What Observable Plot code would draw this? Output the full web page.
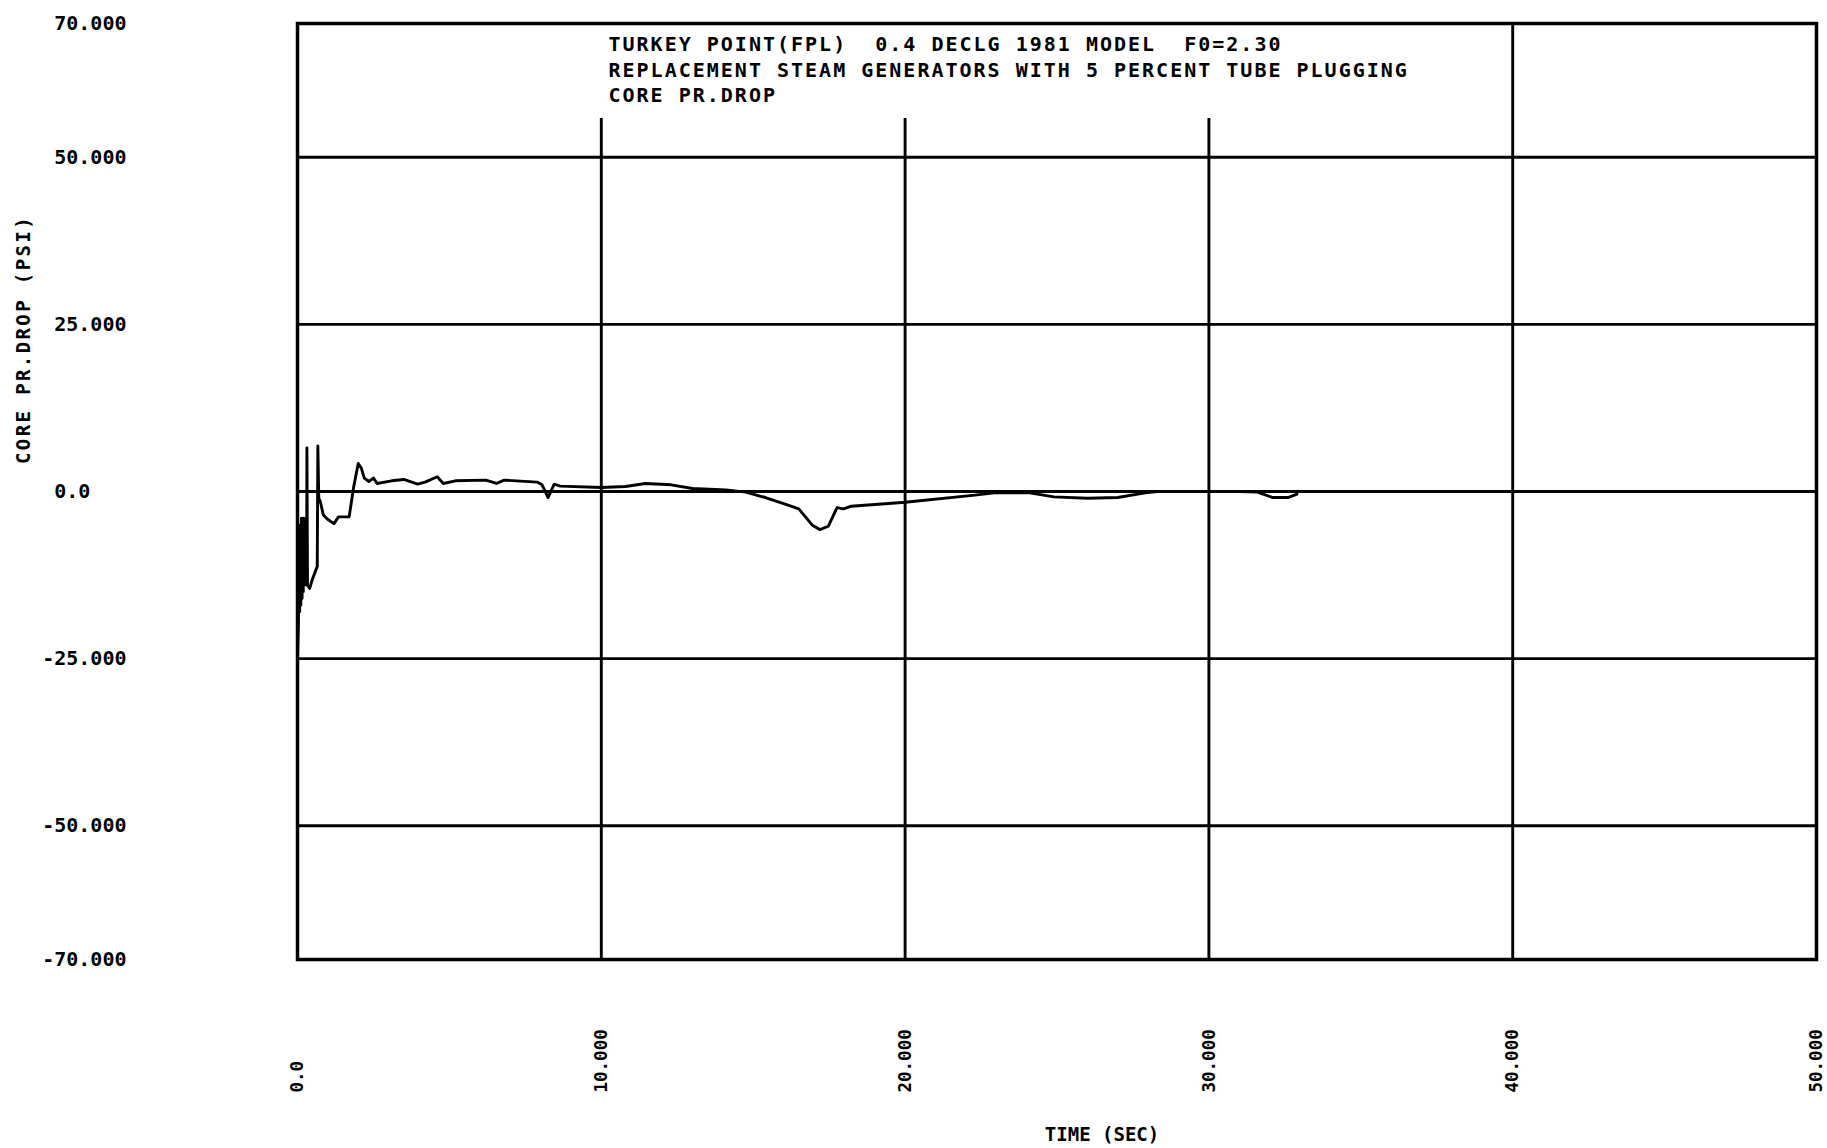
<!DOCTYPE html>
<html>
<head>
<meta charset="utf-8">
<script src="https://cdn.jsdelivr.net/npm/d3@7"></script>
<script src="https://cdn.jsdelivr.net/npm/@observablehq/plot@0.6"></script>
<style>
  html, body { margin: 0; padding: 0; background: white; }
</style>
</head>
<body>
<div id="chart"></div>
<script>
// ---- data ----
const timeSec = [
  0.00, 0.03, 0.05, 0.07, 0.09, 0.11, 0.13, 0.15, 0.17, 0.19, 0.21, 0.23, 0.25, 0.28, 0.30,
  0.31, 0.33, 0.40, 0.50, 0.65, 0.67, 0.70, 0.75, 0.85, 1.00, 1.20, 1.35, 1.70, 1.85, 2.00,
  2.10, 2.20, 2.35, 2.50, 2.62, 3.10, 3.50, 3.95, 4.20, 4.60, 4.80, 5.20, 6.20, 6.55, 6.80,
  7.90, 8.05, 8.25, 8.45, 8.65, 10.0, 10.8, 11.45, 12.3, 13.0, 14.1, 14.75, 15.4, 16.0, 16.5,
  16.96, 17.2, 17.47, 17.76, 17.97, 18.23, 20.0, 22.3, 23.0, 24.1, 24.9, 26.0, 27.0, 27.9,
  28.3, 30.0, 31.0, 31.6, 32.1, 32.6, 32.9
];
const corePrDrop = [
  -25, -20, -8, -18, -5, -17, -4, -16, -6, -15, -4, -14, -7, -12, -14,
  6.5, -14, -14.5, -13, -11.2, 6.8, -1.0, -1.5, -3.5, -4.2, -4.8, -3.8, -3.8, 0.7, 4.2,
  3.5, 2.0, 1.5, 2.0, 1.2, 1.6, 1.8, 1.1, 1.4, 2.2, 1.2, 1.6, 1.7, 1.2, 1.7,
  1.4, 1.0, -0.9, 1.1, 0.8, 0.6, 0.75, 1.2, 1.0, 0.45, 0.25, -0.1, -0.9, -1.8, -2.6,
  -5.1, -5.7, -5.2, -2.4, -2.6, -2.2, -1.6, -0.55, -0.15, -0.2, -0.8, -1.0, -0.9, -0.2,
  0.0, 0.0, 0.0, -0.1, -0.9, -0.9, -0.4
];
const xTicks = [0, 10, 20, 30, 40, 50];
const yTicks = [70, 50, 25, 0, -25, -50, -70];
const hGrid = [50, 25, 0, -25, -50];
const vGridShort = [10, 20, 30];
const vGridFull = [40];
const vGridShortTop = 55.8;
const titleLines = [
  "TURKEY POINT(FPL)  0.4 DECLG 1981 MODEL  F0=2.30",
  "REPLACEMENT STEAM GENERATORS WITH 5 PERCENT TUBE PLUGGING",
  "CORE PR.DROP"
];
const xLabel = "TIME (SEC)";
const yLabel = "CORE PR.DROP (PSI)";

const series = timeSec.map((t, i) => ({t, v: corePrDrop[i]}));

const fmt = d => d === 0 ? "0.0" : (d < 0 ? "-" : "") + Math.abs(d).toFixed(3);
const fmtY = d => d === 0 ? "0.0\u00a0\u00a0\u00a0" : fmt(d);

const mono = "DejaVu Sans Mono";

const chart = Plot.plot({
  width: 1827,
  height: 1148,
  marginLeft: 297,
  marginRight: 11,
  marginTop: 23,
  marginBottom: 189,
  x: {domain: [0, 50], axis: null},
  y: {domain: [-70, 70], axis: null},
  style: {background: "white", color: "black"},
  marks: [
    Plot.ruleY(hGrid, {stroke: "black", strokeWidth: 2.9}),
    Plot.ruleX(vGridShort, {y1: -70, y2: vGridShortTop, stroke: "black", strokeWidth: 2.9}),
    Plot.ruleX(vGridFull, {stroke: "black", strokeWidth: 2.9}),
    Plot.frame({stroke: "black", strokeWidth: 3.5}),
    Plot.line(series, {x: "t", y: "v", stroke: "black", strokeWidth: 2.9, strokeLinejoin: "round"}),
    // y tick labels
    Plot.text(yTicks, {
      y: d => d, text: fmtY, frameAnchor: "left", dx: -171, textAnchor: "end",
      fontFamily: mono, fontWeight: "bold", fontSize: 20, fill: "black"
    }),
    // x tick labels (rotated)
    Plot.text(xTicks, {
      x: d => d, text: fmt, frameAnchor: "bottom", dy: 133, rotate: -90,
      textAnchor: "start", lineAnchor: "middle",
      fontFamily: mono, fontWeight: "bold", fontSize: 17.5, fill: "black"
    }),
    // axis titles
    Plot.text([yLabel], {
      text: d => d, frameAnchor: "left", dx: -274, dy: -152, rotate: -90,
      textAnchor: "middle", lineAnchor: "middle",
      fontFamily: mono, fontWeight: "bold", fontSize: 19, fill: "black"
    }),
    Plot.text([xLabel], {
      text: d => d, frameAnchor: "bottom", dx: 45, dy: 175,
      textAnchor: "middle", lineAnchor: "middle",
      fontFamily: mono, fontWeight: "bold", fontSize: 19, fill: "black"
    }),
    // chart title inside the frame
    Plot.text([titleLines.join("\n")], {
      text: d => d, frameAnchor: "top-left", dx: 311, dy: 45,
      textAnchor: "start", lineAnchor: "middle", lineHeight: 1.275,
      fontFamily: mono, fontWeight: "bold", fontSize: 20, fill: "black"
    })
  ]
});

// letter spacing for the title block and the y-axis title
chart.querySelectorAll("text").forEach(t => {
  if (t.textContent.startsWith("TURKEY")) t.setAttribute("letter-spacing", "2");
  if (t.textContent === yLabel) t.setAttribute("letter-spacing", "2.4");
});

document.getElementById("chart").appendChild(chart);
</script>
</body>
</html>
